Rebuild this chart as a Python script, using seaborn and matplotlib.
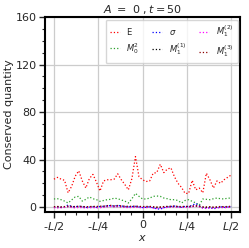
import numpy as np
import pandas as pd
import matplotlib
matplotlib.use("Agg")
import matplotlib.pyplot as plt
import seaborn as sns
from matplotlib.ticker import MultipleLocator

# grid of positions, -L/2 .. L/2 (in units of L)
x = np.linspace(-0.5, 0.5, 51)

E = [23.5, 25.0, 23.5, 22.5, 12.0, 17.5, 26.0, 30.5, 22.0, 16.0,
     24.0, 27.5, 21.0, 13.5, 22.0, 23.0, 23.0, 23.5, 28.0, 23.0,
     19.0, 14.5, 24.0, 42.5, 25.5, 23.0, 21.5, 22.0, 28.5, 29.0,
     36.0, 29.0, 32.0, 33.0, 25.5, 20.0, 16.5, 11.5, 11.5, 22.5,
     14.5, 16.0, 12.0, 28.5, 23.0, 16.0, 22.0, 20.0, 23.0, 25.0,
     27.0]
M02 = [6.8, 7.0, 6.2, 5.0, 3.4, 6.0, 8.5, 9.0, 5.0, 6.5,
       8.5, 7.0, 6.2, 4.8, 5.5, 6.2, 6.5, 7.5, 7.0, 6.0,
       5.0, 3.4, 7.0, 11.5, 9.0, 6.8, 6.8, 7.5, 9.0, 9.3,
       9.0, 7.6, 7.0, 6.2, 6.2, 5.5, 3.4, 5.5, 6.2, 4.8,
       3.5, 1.5, 6.8, 6.5, 6.2, 7.0, 7.6, 7.0, 6.8, 7.5,
       7.5]
sigma = [0.0, 0.3, -0.2, 0.1, 1.8, 0.5, 0.2, 0.8, 0.4, -0.3,
         0.0, 0.3, -0.2, 0.5, 0.6, 1.0, 1.2, 0.8, 1.4, 0.9,
         0.5, 0.2, 0.4, 0.6, 0.1, -0.4, -0.2, 0.3, -0.8, -1.5,
         -1.8, -0.6, 0.2, 0.5, 0.8, 0.3, -0.2, 0.6, 0.4, 1.5,
         3.0, 1.2, -0.8, -1.2, -0.4, -1.5, -0.8, 0.2, -0.3, 0.1,
         0.2]
M11 = [-0.2, 0.1, -0.3, 0.0, 0.4, 0.2, -0.1, 0.3, 0.1, -0.2,
       0.0, 0.2, 0.1, -0.1, 0.3, 0.5, 0.6, 0.4, 0.5, 0.3,
       0.2, 0.0, 0.1, 0.3, 0.2, -0.1, 0.0, 0.2, -0.2, -0.4,
       -0.3, 0.1, 0.3, 0.2, 0.4, 0.2, 0.0, 0.3, 0.1, 0.5,
       0.8, 0.4, -0.2, -0.3, 0.0, -0.4, -0.2, 0.1, 0.0, 0.1,
       0.2]
M12 = [-0.5, -0.8, -0.6, -0.3, 0.2, -0.4, -0.7, -0.3, -0.5, -0.8,
       -0.6, -0.4, -0.7, -0.5, -0.2, 0.2, 0.4, 0.1, 0.3, 0.0,
       -0.2, -0.5, -0.3, -0.1, -0.4, -0.6, -0.5, -0.3, -0.9, -1.2,
       -1.0, -0.6, -0.3, -0.2, 0.1, -0.2, -0.4, -0.1, -0.3, 0.2,
       1.0, 0.3, -0.9, -1.1, -0.7, -1.0, -0.8, -0.4, -0.6, -0.3,
       -0.2]
M13 = [0.3, 0.5, 0.2, 0.4, 0.8, 0.6, 0.4, 0.7, 0.5, 0.3,
       0.4, 0.6, 0.5, 0.7, 0.9, 1.2, 1.4, 1.1, 1.3, 1.0,
       0.8, 0.6, 0.7, 0.9, 0.6, 0.4, 0.5, 0.6, 0.3, 0.1,
       0.2, 0.4, 0.6, 0.7, 0.9, 0.6, 0.4, 0.6, 0.5, 0.8,
       1.2, 0.7, 0.2, 0.1, 0.3, 0.0, 0.2, 0.5, 0.3, 0.5,
       0.6]

series = [
    (E, r"E", "red"),
    (M02, r"$M_0^2$", "#2ca02c"),
    (sigma, r"$\sigma$", "blue"),
    (M11, r"$M_1^{(1)}$", "black"),
    (M12, r"$M_1^{(2)}$", "magenta"),
    (M13, r"$M_1^{(3)}$", "darkred"),
]

sns.set_style("ticks")
plt.rcParams["font.family"] = ["DejaVu Sans"]

fig = plt.figure(figsize=(2.49, 2.48), dpi=100)
ax = fig.add_axes([0.181, 0.146, 0.783, 0.785])

for vals, lab, col in series:
    sns.lineplot(x=x, y=vals, ax=ax, color=col, linestyle=":", linewidth=0.9,
                 label=lab)

ax.set_xlim(-0.55, 0.55)
ax.set_ylim(-4, 160)
ax.set_xticks([-0.5, -0.25, 0, 0.25, 0.5])
ax.set_xticklabels([r"-$L$/2", r"-$L$/4", "0", r"$L$/4", r"$L$/2"])
ax.set_yticks([0, 40, 80, 120, 160])
ax.xaxis.set_minor_locator(MultipleLocator(0.0625))
ax.yaxis.set_minor_locator(MultipleLocator(10))
ax.tick_params(which="major", length=4, width=1, labelsize=8, pad=2)
ax.tick_params(which="minor", length=2, width=0.8)
ax.grid(True, which="major", color="#cccccc", linewidth=0.9)
for s in ax.spines.values():
    s.set_linewidth(1.5)
    s.set_color("black")

ax.set_title(r"$A\ =\ 0\ , t = 50$", fontsize=8, pad=3)
ax.set_xlabel(r"$x$", fontsize=8, labelpad=0)
ax.set_ylabel("Conserved quantity", fontsize=8, labelpad=1)

ax.legend(loc="upper right", ncol=3, fontsize=6, handlelength=1.2,
          handletextpad=0.8, columnspacing=1.5, labelspacing=0.5,
          frameon=True, borderaxespad=0.3, borderpad=0.5)

fig.savefig("out.png", dpi=100)
